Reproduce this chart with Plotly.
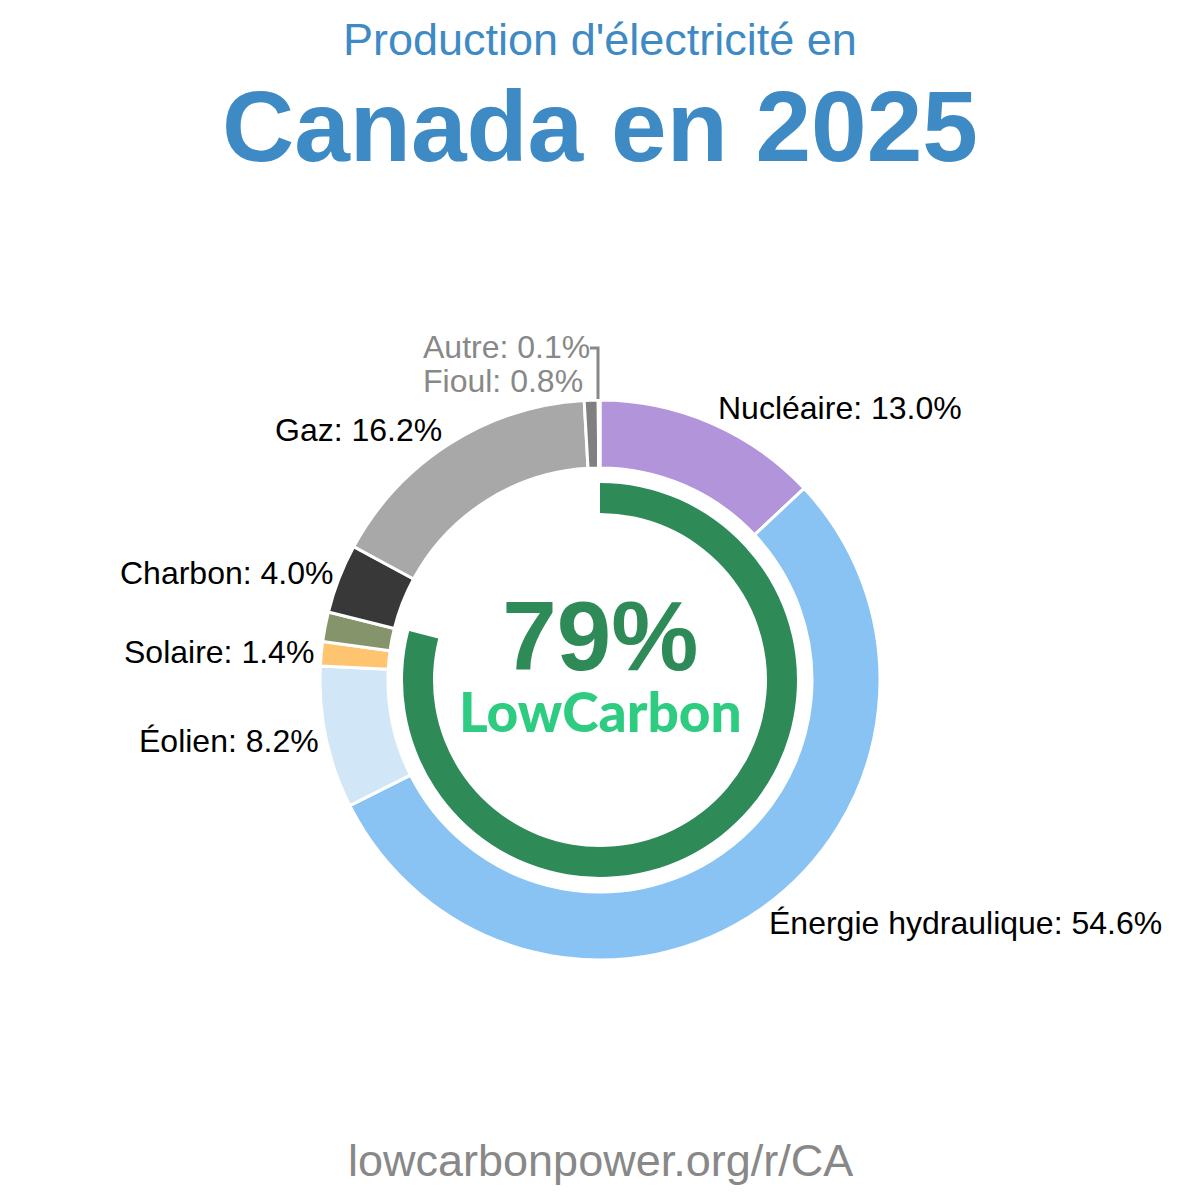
import math
import plotly.graph_objects as go

# ---- data ----
sources = ["Nucléaire", "Énergie hydraulique", "Éolien", "Solaire", "Bioénergie", "Charbon", "Gaz", "Fioul", "Autre"]
shares = [13.0, 54.6, 8.2, 1.4, 1.7, 4.0, 16.2, 0.8, 0.1]
colors = ["#b294db", "#88c3f3", "#d1e6f7", "#ffc470", "#86946b", "#383838", "#a8a8a8", "#808080", "#555555"]
show_label = [True, True, True, True, False, True, True, False, False]
low_carbon_pct = 79
subtitle = "Production d'électricité en"
title = "Canada en 2025"
footer = "lowcarbonpower.org/r/CA"

W = H = 1200
CX, CY = 600, 680
R_OUT, R_IN = 280, 197


def px_dom(cx, cy, r):
    return dict(x=[(cx - r) / W, (cx + r) / W], y=[1 - (cy + r) / H, 1 - (cy - r) / H])


fig = go.Figure()
fig.add_trace(go.Pie(
    labels=sources, values=shares, sort=False, direction="clockwise", rotation=0,
    hole=212 / 280, domain=px_dom(CX, CY, R_OUT),
    marker=dict(colors=colors, line=dict(color="white", width=3)),
    textinfo="none", hoverinfo="label+percent", showlegend=False,
))
fig.add_trace(go.Pie(
    labels=["Bas carbone", "Autre"], values=[low_carbon_pct, 100 - low_carbon_pct],
    sort=False, direction="clockwise", rotation=0,
    hole=167 / 197, domain=px_dom(CX, CY, R_IN),
    marker=dict(colors=["#2e8b57", "rgba(0,0,0,0)"], line=dict(width=0)),
    textinfo="none", hoverinfo="skip", showlegend=False,
))

annotations = []
total = sum(shares)
cum = 0.0
LR = 296
for name, v, show in zip(sources, shares, show_label):
    mid = (cum + v / 2) / total * 2 * math.pi
    cum += v
    if not show:
        continue
    s, c = math.sin(mid), math.cos(mid)
    x = CX + LR * s
    y = CY - LR * c
    right = s < 0
    annotations.append(dict(
        x=x / W, y=1 - y / H, xref="paper", yref="paper",
        text=f"{name}: {v:.1f}%", showarrow=False,
        xanchor="right" if right else "left", yanchor="middle",
        xshift=(3 if right else -2) + (8 if right and abs(s) > 0.8 else 0),
        font=dict(family="Liberation Sans, Arial", size=32, color="#000"),
    ))

# small slices grouped at the top (Autre above Fioul)
small = [("Autre", shares[sources.index("Autre")]), ("Fioul", shares[sources.index("Fioul")])]
for i, (n, v) in enumerate(small):
    annotations.append(dict(
        x=421 / W, y=1 - (347 + 34 * i) / H, xref="paper", yref="paper",
        text=f"{n}: {v:.1f}%", showarrow=False, xanchor="left", yanchor="middle",
        font=dict(family="Liberation Sans, Arial", size=32, color="#888888"),
    ))

center_text = (
    f"<span style='font-family:Liberation Sans;font-weight:bold;color:#2e8b57;font-size:98px'>{low_carbon_pct}%</span>"
    "<br><span style='font-family:Lato;font-weight:900;color:#2ecc80;font-size:55px'>LowCarbon</span>"
)

annotations += [
    dict(x=0.5, y=1 - 40 / H, xref="paper", yref="paper", text=subtitle, showarrow=False,
         xanchor="center", yanchor="middle",
         font=dict(family="Liberation Sans, Arial", size=45, color="#3e8ac4")),
    dict(x=0.5, y=1 - 126 / H, xref="paper", yref="paper", text=f"<b>{title}</b>", showarrow=False,
         xanchor="center", yanchor="middle",
         font=dict(family="Liberation Sans, Arial", size=100, color="#3e8ac4")),
    dict(x=CX / W, y=1 - 662 / H, xref="paper", yref="paper", text=center_text, showarrow=False,
         xanchor="center", yanchor="middle",
         font=dict(family="Liberation Sans, Arial", size=48, color="#2e8b57")),
    dict(x=0.5, y=1 - 1160 / H, xref="paper", yref="paper", text=footer, showarrow=False,
         xanchor="center", yanchor="middle",
         font=dict(family="Liberation Sans, Arial", size=45, color="#888888")),
]

shapes = [dict(
    type="path", xref="paper", yref="paper",
    path=f"M {598 / W} {1 - 399 / H} L {598 / W} {1 - 348 / H} L {590 / W} {1 - 348 / H}",
    line=dict(color="#888888", width=3),
)]

fig.update_layout(
    width=W, height=H, margin=dict(l=0, r=0, t=0, b=0),
    paper_bgcolor="white", plot_bgcolor="white",
    annotations=annotations, shapes=shapes, showlegend=False,
)
fig.write_html("out.html")
